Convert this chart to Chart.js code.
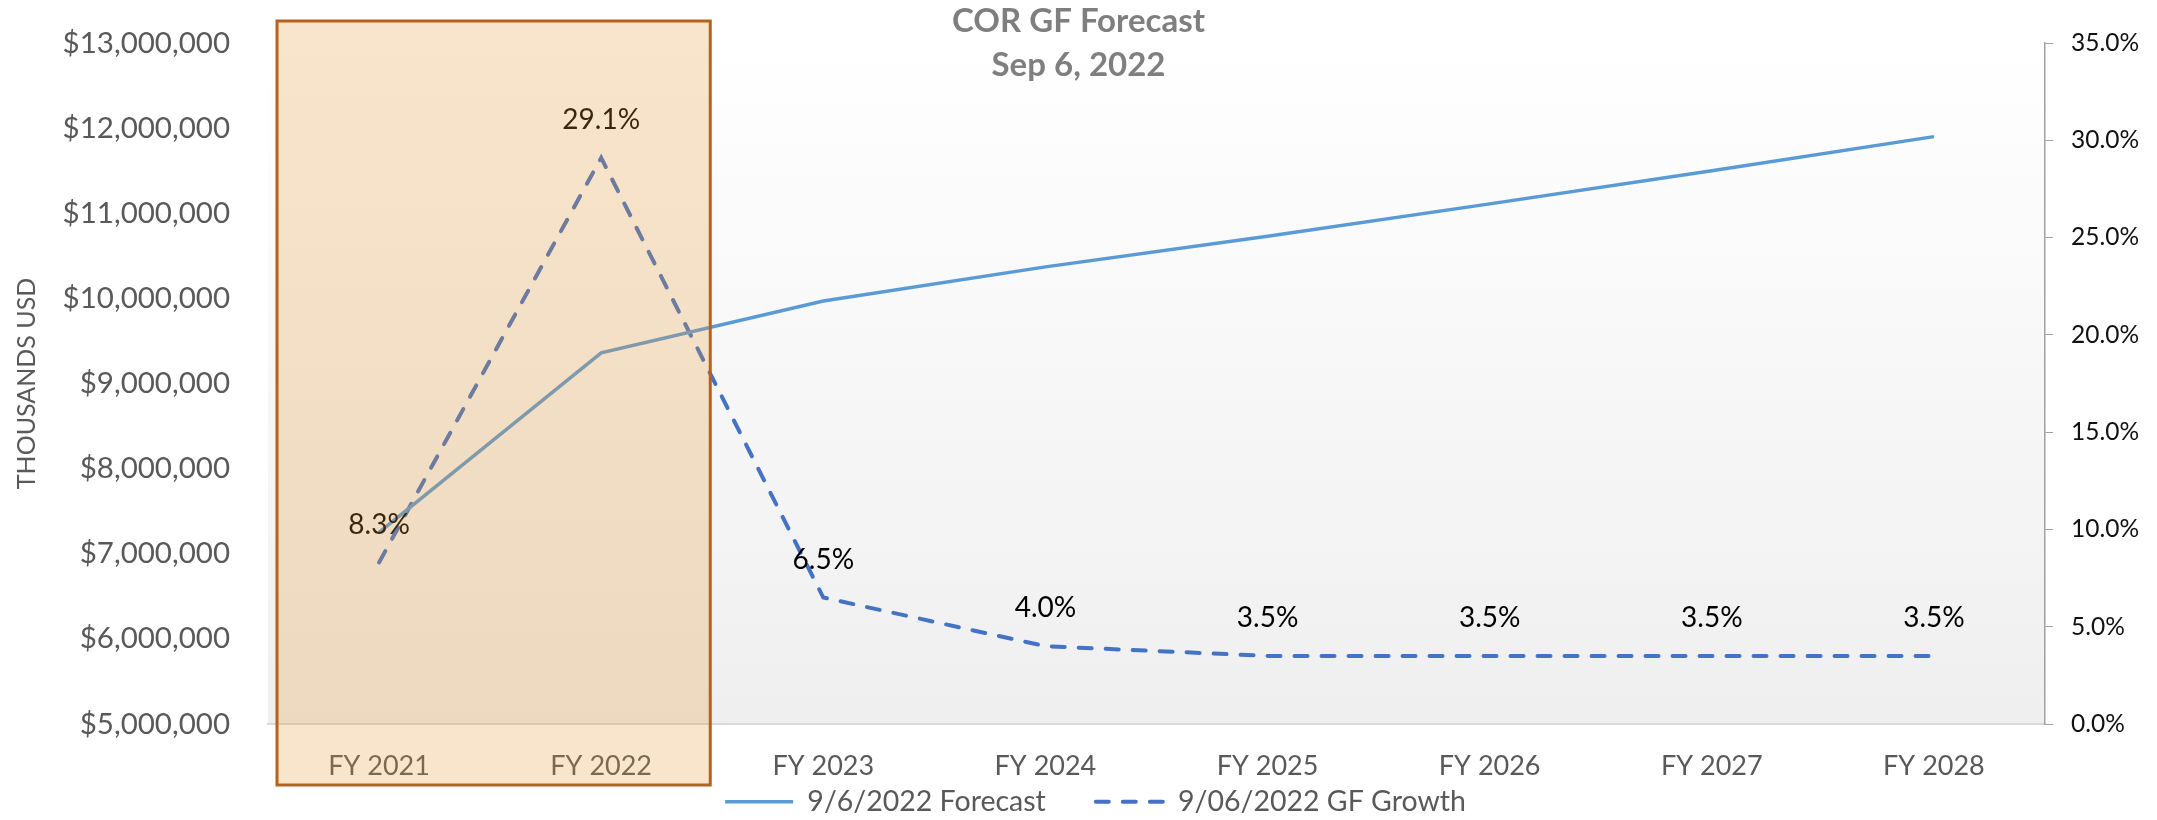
<!DOCTYPE html>
<html>
<head>
<meta charset="utf-8">
<script src="https://cdn.jsdelivr.net/npm/chart.js@4.4.1/dist/chart.umd.min.js"></script>
<style>
  html, body { margin: 0; padding: 0; background: #fff; }
  #wrap { width: 2157px; height: 820px; position: relative; }
</style>
</head>
<body>
<div id="wrap"><canvas id="chart"></canvas></div>
<script>
(function() {
  'use strict';

  var YEARS = ['FY 2021', 'FY 2022', 'FY 2023', 'FY 2024', 'FY 2025', 'FY 2026', 'FY 2027', 'FY 2028'];
  var FORECAST = [7250000, 9360000, 9970000, 10370000, 10730000, 11110000, 11500000, 11900000];
  var GROWTH = [8.3, 29.1, 6.5, 4.0, 3.5, 3.5, 3.5, 3.5];
  var HIGHLIGHT = ['FY 2021', 'FY 2022'];
  var TITLE = ['COR GF Forecast', 'Sep 6, 2022'];
  var SERIES_NAMES = ['9/6/2022 Forecast', '9/06/2022 GF Growth'];

  var BLUE = '#5b9bd5', DARKBLUE = '#4472c4', GREY_TXT = '#595959', AXIS = '#a0a0a0';
  var FONT = 'Lato, "Open Sans", sans-serif';

  function money(v) { return '$' + Number(v).toLocaleString('en-US'); }
  function pct(v) { return Number(v).toFixed(1) + '%'; }

  // soft white-to-grey fill behind the plot
  var plotBg = {
    id: 'plotBg',
    beforeDraw: function(chart) {
      var a = chart.chartArea, ctx = chart.ctx;
      var g = ctx.createLinearGradient(0, a.top, 0, a.bottom);
      g.addColorStop(0, '#ffffff');
      g.addColorStop(1, '#efefef');
      ctx.save();
      ctx.fillStyle = g;
      ctx.fillRect(a.left, a.top, a.right - a.left, a.bottom - a.top);
      ctx.restore();
    }
  };

  // legend sits a bit right of centre in the original
  var legendNudge = {
    id: 'legendNudge',
    afterLayout: function(chart) {
      chart.legend.left += 17;
      chart.legend.right += 17;
    }
  };

  // percent labels above the growth points
  var growthLabels = {
    id: 'growthLabels',
    afterDatasetsDraw: function(chart) {
      var meta = chart.getDatasetMeta(1), ctx = chart.ctx;
      ctx.save();
      ctx.font = '28px ' + FONT;
      ctx.fillStyle = '#000';
      ctx.textAlign = 'center';
      ctx.textBaseline = 'middle';
      meta.data.forEach(function(pt, i) {
        ctx.fillText(pct(GROWTH[i]), pt.x, pt.y - 38);
      });
      ctx.restore();
    }
  };

  // shaded box over the actuals years
  var highlightBox = {
    id: 'highlightBox',
    afterDraw: function(chart) {
      var x = chart.scales.x, a = chart.chartArea, ctx = chart.ctx;
      var i0 = YEARS.indexOf(HIGHLIGHT[0]), i1 = YEARS.indexOf(HIGHLIGHT[HIGHLIGHT.length - 1]);
      var half = (x.getPixelForValue(1) - x.getPixelForValue(0)) / 2;
      var left = x.getPixelForValue(i0) - half + 9;
      var right = x.getPixelForValue(i1) + half - 2;
      var top = a.top - 22, bottom = a.bottom + 61;
      ctx.save();
      ctx.fillStyle = 'rgba(230,150,50,0.25)';
      ctx.fillRect(left, top, right - left, bottom - top);
      ctx.strokeStyle = '#b4621c';
      ctx.lineWidth = 3;
      ctx.strokeRect(left, top, right - left, bottom - top);
      ctx.restore();
    }
  };

  function legendItems(chart) {
    return Chart.defaults.plugins.legend.labels.generateLabels(chart).map(function(item) {
      var ds = chart.data.datasets[item.datasetIndex];
      item.lineDash = ds.borderDash || [];
      item.lineCap = ds.borderCapStyle || 'butt';
      item.lineWidth = ds.borderWidth;
      item.strokeStyle = ds.borderColor;
      return item;
    });
  }

  new Chart(document.getElementById('chart'), {
    type: 'line',
    data: {
      labels: YEARS,
      datasets: [
        { label: SERIES_NAMES[0], data: FORECAST, yAxisID: 'y', borderColor: BLUE, backgroundColor: BLUE,
          borderWidth: 3.5, pointRadius: 0, tension: 0, fill: false },
        { label: SERIES_NAMES[1], data: GROWTH, yAxisID: 'y1', borderColor: DARKBLUE, backgroundColor: DARKBLUE,
          borderWidth: 4, borderDash: [13, 14], borderCapStyle: 'round', pointRadius: 0, tension: 0, fill: false }
      ]
    },
    plugins: [plotBg, legendNudge, growthLabels, highlightBox],
    options: {
      responsive: true, maintainAspectRatio: false, animation: false,
      layout: { padding: { top: 0, left: 0, right: 0, bottom: -6 } },
      plugins: {
        title: { display: true, text: TITLE, color: '#7f7f7f',
          font: { family: FONT, size: 33, weight: 'bold', lineHeight: '44px' },
          padding: { top: -1, bottom: -44 } },
        legend: { position: 'bottom',
          // blank title with negative padding keeps the wide item gap without a tall legend box
          title: { display: true, text: ' ', font: { size: 10, lineHeight: '10px' }, padding: { top: 0, bottom: -56.5 } },
          labels: { color: GREY_TXT, font: { family: FONT, size: 28.5 }, usePointStyle: true, pointStyle: 'line',
            pointStyleWidth: 68, padding: 50, generateLabels: legendItems } },
        tooltip: { enabled: false }
      },
      scales: {
        x: {
          offset: true,
          grid: { display: false, drawTicks: false },
          border: { display: true, color: '#d9d9d9', width: 2 },
          ticks: { color: GREY_TXT, font: { family: FONT, size: 27 }, padding: 26, maxRotation: 0 },
          afterFit: function(s) { s.height = 60; }
        },
        y: {
          position: 'left', min: 5000000, max: 13000000,
          grid: { display: true, drawOnChartArea: false, drawTicks: true, tickLength: 30, color: 'rgba(0,0,0,0)' },
          border: { display: false },
          ticks: { stepSize: 1000000, color: GREY_TXT, font: { family: FONT, size: 29.5 }, padding: 8, callback: money },
          title: { display: true, text: 'THOUSANDS USD', color: GREY_TXT, font: { family: FONT, size: 25 },
            padding: { top: 12, bottom: 0 } },
          afterFit: function(s) { s.width = 268; }
        },
        y1: {
          position: 'right', min: 0, max: 35,
          grid: { drawOnChartArea: false, drawTicks: true, tickLength: 8, color: AXIS },
          border: { display: true, color: AXIS, width: 1.5 },
          ticks: { stepSize: 5, color: '#111', font: { family: FONT, size: 24.5 }, padding: 18, callback: pct },
          afterFit: function(s) { s.width = 112; }
        }
      }
    }
  });
})();
</script>
</body>
</html>
